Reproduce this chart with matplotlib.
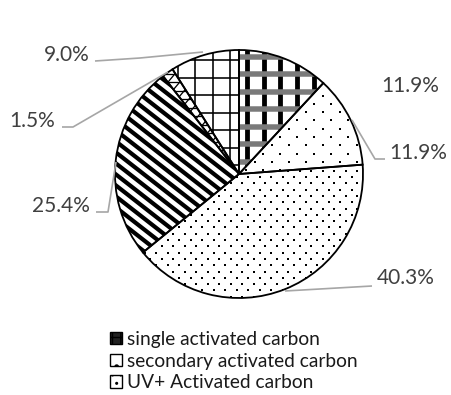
import matplotlib
matplotlib.use("Agg")
import numpy as np
import matplotlib.pyplot as plt
from matplotlib.patches import Wedge, Patch
from matplotlib.collections import LineCollection

plt.rcParams['font.family'] = ['Lato', 'DejaVu Sans']

categories = ["single activated carbon", "secondary activated carbon", "UV+ Activated carbon",
              "category 4", "category 5", "category 6"]
values = [11.9, 11.9, 40.3, 25.4, 1.5, 9.0]
label_texts = ["11.9%", "11.9%", "40.3%", "25.4%", "1.5%", "9.0%"]

W, H = 451, 395
PX = 0.72  # points per pixel at dpi 100
fig = plt.figure(figsize=(W / 100, H / 100), dpi=100)
ax = fig.add_axes([0, 0, 1, 1])

def py(y):
    return H - y

cx, cy, R = 239, py(174), 124

wedges, _ = ax.pie(values, startangle=90, counterclock=False, center=(cx, cy), radius=R,
                   wedgeprops=dict(edgecolor='none', linewidth=0, facecolor='white'))
ax.set_xlim(0, W)
ax.set_ylim(0, H)
ax.set_aspect('equal')
ax.axis('off')

x0, x1, y0, y1 = cx - R - 5, cx + R + 5, cy - R - 5, cy + R + 5

def add_lines(segs, wedge, color, lw_px, z=2):
    lc = LineCollection(segs, colors=color, linewidths=lw_px * PX, zorder=z,
                        capstyle='butt')
    ax.add_collection(lc)
    lc.set_clip_path(wedge)

def vlines(xs):
    return [[(x, y0), (x, y1)] for x in xs]

def hlines(ys):
    return [[(x0, y), (x1, y)] for y in ys]

def dlines(slope, step):
    segs = []
    span = (x1 - x0) * abs(slope) + (y1 - y0)
    for b in np.arange(-span, span, step):
        segs.append([(x0, cy + b + slope * (x0 - cx)), (x1, cy + b + slope * (x1 - cx))])
    return segs

def add_dots(wedge, dx, dy, size_px, color='black'):
    pts = []
    for i, y in enumerate(np.arange(y0, y1, dy)):
        off = (dx / 2) * (i % 2)
        for x in np.arange(x0 + off, x1, dx):
            pts.append((x, y))
    pts = np.array(pts)
    sc = ax.scatter(pts[:, 0], pts[:, 1], s=(size_px * PX) ** 2, marker='s',
                    c=color, linewidths=0, zorder=2)
    sc.set_clip_path(wedge)

# slice 1: plaid (black bars + checkered grey bands)
w = wedges[0]
add_lines(vlines(np.arange(cx + 8, x1, 16.7)), w, 'black', 4.8)
add_lines(hlines([py(v) for v in np.arange(56.5, 175, 17.5)]), w, '#7a7a7a', 5.5, z=2.1)
# slice 2: sparse dots
add_dots(wedges[1], 17, 8.3, 2.3)
# slice 3: dense dots
add_dots(wedges[2], 11.5, 6.3, 2.5)
# slice 4: wide downward diagonal stripes
add_lines(dlines(-np.tan(np.radians(38)), 11.0), wedges[3], 'black', 4.2)
# slice 5: small shingle pattern
add_lines(hlines(np.arange(y0, y1, 8.5)), wedges[4], 'black', 1.3)
add_lines(dlines(np.tan(np.radians(50)), 14), wedges[4], 'black', 1.3)
# slice 6: grid
add_lines(vlines(np.arange(cx - 9, x0, -17.5)), wedges[5], 'black', 1.6)
add_lines(hlines([py(v) for v in np.arange(60, 175, 17.5)]), wedges[5], 'black', 1.6)

# outlines on top
for w in wedges:
    ax.add_patch(Wedge(w.center, w.r, w.theta1, w.theta2, facecolor='none',
                       edgecolor='black', linewidth=1.3, zorder=5))

label_color = '#404040'
line_color = '#a6a6a6'
label_pos = [(410, 86), (418, 153), (406, 278), (61, 206), (32, 121), (67, 55)]
leaders = [None,
           [(352, 120), (375, 159), (385, 159)],
           [(285, 291), (372, 286)],
           [(116, 162), (108, 212), (96, 212)],
           [(168, 72), (73, 127), (62, 127)],
           [(203, 52), (140, 58), (95, 61)]]
for txt, (lx, ly), ld in zip(label_texts, label_pos, leaders):
    ax.text(lx, py(ly), txt, ha='center', va='center', fontsize=15, color=label_color)
    if ld:
        ax.plot([p[0] for p in ld], [py(p[1]) for p in ld], color=line_color, lw=1.2,
                solid_capstyle='butt', zorder=6)

handles = [Patch(facecolor='#222222', edgecolor='black', hatch='++', linewidth=1),
           Patch(facecolor='white', edgecolor='black', hatch='.', linewidth=1),
           Patch(facecolor='white', edgecolor='black', hatch='..', linewidth=1)]
leg = ax.legend(handles, categories[:3], loc='upper left',
                bbox_to_anchor=(110 / W, 1 - 331 / H), bbox_transform=fig.transFigure,
                frameon=False, fontsize=13.8, handlelength=0.6, handleheight=0.6,
                handletextpad=0.3, labelspacing=0.24, borderpad=0, borderaxespad=0,
                labelcolor='#1a1a1a')

fig.savefig('out.png', dpi=100)
